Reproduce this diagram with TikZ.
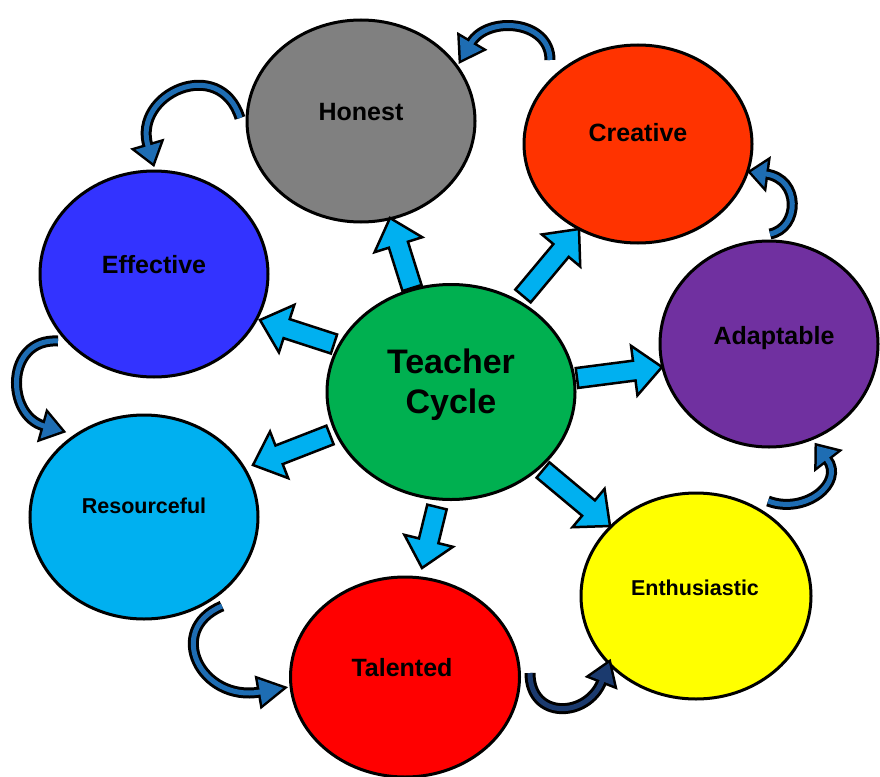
\documentclass[tikz,border=0pt]{standalone}
\usepackage{fontspec}
\setmainfont{Liberation Sans}
\usetikzlibrary{calc,shapes.geometric}
\definecolor{cgreen}{HTML}{00B050}
\definecolor{cgrey}{HTML}{808080}
\definecolor{corange}{HTML}{FF3300}
\definecolor{cblueE}{HTML}{3333FF}
\definecolor{cpurple}{HTML}{7030A0}
\definecolor{ccyan}{HTML}{00B0F0}
\definecolor{cred}{HTML}{FF0000}
\definecolor{cyellow}{HTML}{FFFF00}
\definecolor{arrblue}{HTML}{00B0F0}
\definecolor{cvblue}{HTML}{1E6DB3}
\definecolor{cvnavy}{HTML}{1B3A6E}
\tikzset{
  ell/.style={ellipse, draw=black, line width=3pt, inner sep=0pt},
  lab/.style={font=\bfseries\fontsize{25}{30}\selectfont, text=black},
  labs/.style={font=\bfseries\fontsize{21.5}{26}\selectfont, text=black},
  barrow/.style={fill=arrblue, draw=black, line width=2.5pt, line join=miter},
}
\newcommand\blockarr[2]{%
  \coordinate (ba-h) at ($(#2)!28pt!(#1)$);
  \draw[barrow] ($(#1)!10pt!90:(#2)$) -- ($(ba-h)!10pt!-90:(#1)$) -- ($(ba-h)!25pt!-90:(#1)$) -- (#2) -- ($(ba-h)!25pt!90:(#1)$) -- ($(ba-h)!10pt!90:(#1)$) -- ($(#1)!10pt!-90:(#2)$) -- cycle;}
% #1 tail, #2 first control, #3 base of head, #4 tip, #5 colour, #6 control distance
\newcommand\curvarr[6]{%
  \coordinate (cv-c) at ($(#3)!-#6pt!(#4)$);
  \coordinate (cv-e) at ($(#3)!4pt!(#4)$);
  \draw[black, line width=11pt, line cap=butt] (#1) .. controls (#2) and (cv-c) .. (#3);
  \filldraw[black, line width=5pt, line join=miter] (#4) -- ($(#3)!13pt!90:(#4)$) -- ($(#3)!13pt!-90:(#4)$) -- cycle;
  \draw[#5, line width=5pt, line cap=butt] (#1) .. controls (#2) and (cv-c) .. (#3) -- (cv-e);
  \fill[#5] (#4) -- ($(#3)!13pt!90:(#4)$) -- ($(#3)!13pt!-90:(#4)$) -- cycle;}
\begin{document}
\begin{tikzpicture}[x=1pt,y=-1pt]
\useasboundingbox (0,0) rectangle (880,776);
\fill[white] (0,0) rectangle (880,776);

% ellipses
\node[ell, fill=cgrey, minimum width=228pt, minimum height=202pt] (honest) at (361,121) {};
\node[ell, fill=corange, minimum width=228pt, minimum height=198pt] (creative) at (638,144) {};
\node[ell, fill=cblueE, minimum width=228pt, minimum height=206pt] (effective) at (154,274) {};
\node[ell, fill=cpurple, minimum width=218pt, minimum height=206pt] (adaptable) at (769,344) {};
\node[ell, fill=ccyan, minimum width=228pt, minimum height=204pt] (resourceful) at (144,517) {};
\node[ell, fill=cyellow, minimum width=230pt, minimum height=206pt] (enthusiastic) at (696,596) {};
\node[ell, fill=cred, minimum width=229pt, minimum height=200pt] (talented) at (405,677) {};
\node[ell, fill=cgreen, minimum width=248pt, minimum height=215pt] (teacher) at (451,392) {};

% labels
\node[lab] (lhonest) at (361,112) {Honest};
\node[lab] (lcreative) at (638,133) {Creative};
\node[lab] (leffective) at (154,265) {Effective};
\node[lab] (ladaptable) at (774,338) {Adaptable};
\node[labs] (lresourceful) at (144,506) {Resourceful};
\node[lab] (ltalented) at (402,668) {Talented};
\node[labs] (lenthusiastic) at (695,588) {Enthusiastic};
\node[font=\bfseries\fontsize{34}{40}\selectfont, align=center] (lteacher) at (451,385) {Teacher\\Cycle};

% block arrows
\coordinate (t1) at (412,288); \coordinate (h1) at (390,218);
\coordinate (t2) at (523,296); \coordinate (h2) at (579,229);
\coordinate (t3) at (334,344); \coordinate (h3) at (260,320);
\coordinate (t4) at (577,378); \coordinate (h4) at (662,367);
\coordinate (t5) at (330,435); \coordinate (h5) at (253,465);
\coordinate (t6) at (543,470); \coordinate (h6) at (610,526);
\coordinate (t7) at (437,507); \coordinate (h7) at (422,568);
\blockarr{t1}{h1}
\blockarr{t2}{h2}
\blockarr{t3}{h3}
\blockarr{t4}{h4}
\blockarr{t5}{h5}
\blockarr{t6}{h6}
\blockarr{t7}{h7}

% curved arrows
\coordinate (s1) at (550,60); \coordinate (k1) at (550,20); \coordinate (b1) at (471,43); \coordinate (e1) at (461,60);
\curvarr{s1}{k1}{b1}{e1}{cvblue}{32}
\coordinate (s2) at (240,118); \coordinate (k2) at (220,55); \coordinate (b2) at (148,146); \coordinate (e2) at (153,163);
\curvarr{s2}{k2}{b2}{e2}{cvblue}{55}
\coordinate (s3) at (58,341); \coordinate (k3) at (5,338); \coordinate (b3) at (44,426); \coordinate (e3) at (62,431);
\curvarr{s3}{k3}{b3}{e3}{cvblue}{40}
\coordinate (s4) at (222,606); \coordinate (k4) at (165,630); \coordinate (b4) at (260,692); \coordinate (e4) at (283,688);
\curvarr{s4}{k4}{b4}{e4}{cvblue}{60}
\coordinate (s5) at (530,673); \coordinate (k5) at (530,720); \coordinate (b5) at (602,681); \coordinate (e5) at (609,663);
\curvarr{s5}{k5}{b5}{e5}{cvnavy}{40}
\coordinate (s6) at (768,501); \coordinate (k6) at (805,515); \coordinate (b6) at (827,459); \coordinate (e6) at (817,446);
\curvarr{s6}{k6}{b6}{e6}{cvblue}{30}
\coordinate (s7) at (770,234); \coordinate (k7) at (800,228); \coordinate (b7) at (766,174); \coordinate (e7) at (751,172);
\curvarr{s7}{k7}{b7}{e7}{cvblue}{35}
\end{tikzpicture}
\end{document}
